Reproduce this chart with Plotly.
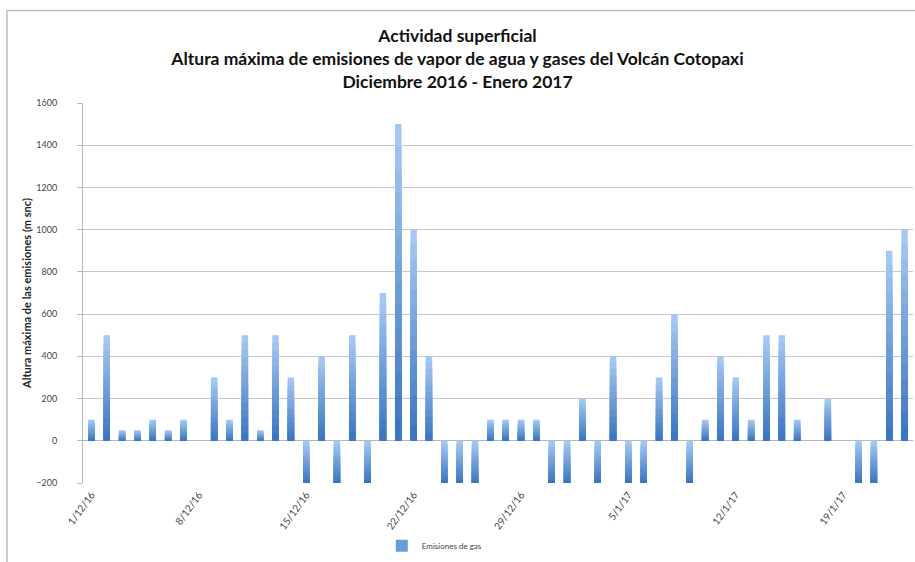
import plotly.graph_objects as go

dates = ["1/12/16", "2/12/16", "3/12/16", "4/12/16", "5/12/16", "6/12/16", "7/12/16",
         "8/12/16", "9/12/16", "10/12/16", "11/12/16", "12/12/16", "13/12/16", "14/12/16",
         "15/12/16", "16/12/16", "17/12/16", "18/12/16", "19/12/16", "20/12/16", "21/12/16",
         "22/12/16", "23/12/16", "24/12/16", "25/12/16", "26/12/16", "27/12/16", "28/12/16",
         "29/12/16", "30/12/16", "31/12/16", "1/1/17", "2/1/17", "3/1/17", "4/1/17",
         "5/1/17", "6/1/17", "7/1/17", "8/1/17", "9/1/17", "10/1/17", "11/1/17",
         "12/1/17", "13/1/17", "14/1/17", "15/1/17", "16/1/17", "17/1/17", "18/1/17",
         "19/1/17", "20/1/17", "21/1/17", "22/1/17", "23/1/17"]

emisiones = [100, 500, 50, 50, 100, 50, 100,
             None, 300, 100, 500, 50, 500, 300,
             -200, 400, -200, 500, -200, 700, 1500,
             1000, 400, -200, -200, -200, 100, 100,
             100, 100, -200, -200, 200, -200, 400,
             -200, -200, 300, 600, -200, 100, 400,
             300, 100, 500, 500, 100, None, 200,
             None, -200, -200, 900, 1000]

tick_labels = ["1/12/16", "8/12/16", "15/12/16", "22/12/16", "29/12/16", "5/1/17", "12/1/17", "19/1/17"]

y_ticks = [-200, 0, 200, 400, 600, 800, 1000, 1200, 1400, 1600]

# vertical colour gradient (light top -> dark bottom), drawn as overlaid bar layers
light = (163, 200, 244)
dark = (58, 118, 198)
N = 14

fig = go.Figure()
for k in range(N):
    f = k / N
    t = k / (N - 1)
    col = "rgb({},{},{})".format(*[round(light[i] + (dark[i] - light[i]) * t) for i in range(3)])
    ys, bases = [], []
    for v in emisiones:
        if v is None:
            ys.append(None); bases.append(0)
        elif v >= 0:
            ys.append(v * (1 - f)); bases.append(0)
        else:
            ys.append(-v * (1 - f)); bases.append(v)
    fig.add_trace(go.Bar(
        x=dates, y=ys, base=bases,
        marker=dict(color=col, line=dict(width=0)),
        width=0.42,
        name="Emisiones de gas",
        showlegend=(k == N // 2),
        hoverinfo="skip" if k else None,
    ))

fig.update_layout(
    barmode="overlay",
    width=915, height=562,
    margin=dict(l=83, r=2, t=103, b=77),
    paper_bgcolor="white", plot_bgcolor="white",
    font=dict(family="Lato, Open Sans, sans-serif", color="#333"),
    title=dict(
        text="<b>Actividad superficial<br>Altura máxima de emisiones de vapor de agua y gases del Volcán Cotopaxi<br>Diciembre 2016 - Enero 2017</b>",
        x=0.5, xanchor="center", y=0.925, yanchor="top",
        font=dict(size=17.5, color="#111", family="Lato, Open Sans, sans-serif"),
    ),
    xaxis=dict(
        type="category",
        categoryorder="array", categoryarray=dates,
        tickmode="array", tickvals=tick_labels, ticktext=tick_labels,
        tickangle=-54,
        tickfont=dict(size=10, color="#444"),
        ticklabelstandoff=3,
        showgrid=False,
        showline=False,
        range=[-0.55, len(dates) - 0.45],
        ticks="",
    ),
    yaxis=dict(
        range=[-200, 1600],
        tickvals=y_ticks,
        tickfont=dict(size=9, color="#444"),
        ticklabelstandoff=18,
        showgrid=True, gridcolor="#c8c8c8", gridwidth=1,
        zeroline=True, zerolinecolor="#b8b8b8", zerolinewidth=1,
        showline=True, linecolor="#b8b8b8", linewidth=1,
        ticks="outside", ticklen=5, tickcolor="#b8b8b8",
        title=dict(text="<b>Altura máxima de las emisiones (m snc)</b>",
                   font=dict(size=11, color="#222"), standoff=2),
    ),
    legend=dict(
        orientation="h", x=0.36, xanchor="left", y=-0.165, yanchor="middle",
        font=dict(size=8, color="#444"), itemwidth=30,
    ),
    shapes=[dict(
        type="path", xref="paper", yref="paper",
        path="M -0.0916,-0.25 L -0.0916,1.2435 L 1.01,1.2435",
        line=dict(color="#bdbdbd", width=1.5),
    )],
)

fig.write_html("out.html")
